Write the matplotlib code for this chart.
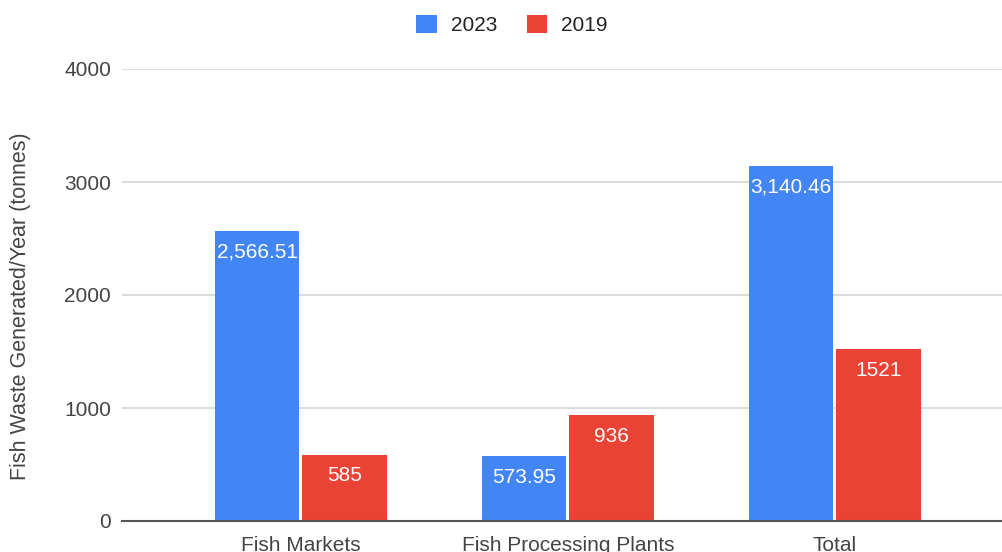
import matplotlib
matplotlib.use("Agg")
import matplotlib.pyplot as plt
import numpy as np

categories = ["Fish Markets", "Fish Processing Plants", "Total"]
series_names = ["2023", "2019"]
values_2023 = [2566.51, 573.95, 3140.46]
values_2019 = [585, 936, 1521]
labels_2023 = ["2,566.51", "573.95", "3,140.46"]
labels_2019 = ["585", "936", "1521"]
yticks = [0, 1000, 2000, 3000, 4000]

plt.rcParams['font.family'] = ['Liberation Sans', 'DejaVu Sans']

fig = plt.figure(figsize=(10.03, 5.52), dpi=100)
ax = fig.add_axes([122/1003, 31/552, 1 - 122/1003, (521-69)/552])

x = np.arange(len(categories))
w = 0.315
blue = "#4285F4"
red = "#EA4335"
b1 = ax.bar(x - w/2 - 0.006, values_2023, w, color=blue, label=series_names[0], zorder=3)
b2 = ax.bar(x + w/2 + 0.006, values_2019, w, color=red, label=series_names[1], zorder=3)

for bars, labs in ((b1, labels_2023), (b2, labels_2019)):
    for rect, lab in zip(bars, labs):
        ax.text(rect.get_x() + rect.get_width()/2, rect.get_height() - 234, lab,
                ha='center', va='baseline', color='white', fontsize=15, zorder=4)

ax.set_ylim(0, 4000)
ax.set_xlim(-0.67, 2.63)
ax.set_yticks(yticks)
ax.set_yticklabels([str(t) for t in yticks])
ax.set_xticks(x)
ax.set_xticklabels(categories)
ax.tick_params(axis='both', length=0, labelsize=15, labelcolor='#444444')
ax.tick_params(axis='y', pad=8)
ax.tick_params(axis='x', pad=11)
ax.grid(axis='y', color='#d9d9d9', linewidth=1.3, zorder=0)
for s in ['top', 'right', 'left']:
    ax.spines[s].set_visible(False)
ax.spines['bottom'].set_color('#555555')
ax.spines['bottom'].set_linewidth(1.5)
ax.spines['bottom'].set_zorder(5)

ax.set_ylabel("Fish Waste Generated/Year (tonnes)", fontsize=15.5, color='#444444')
ax.yaxis.set_label_coords(-(122-31)/(1003-122), 0.476)

leg = fig.legend(handles=[b1, b2], labels=series_names, loc='center', bbox_to_anchor=(512/1003, 1 - 25/552),
                 ncol=2, frameon=False, fontsize=15, handlelength=1.0, handleheight=1.0,
                 columnspacing=1.4, handletextpad=0.67)
for t in leg.get_texts():
    t.set_color('#222222')

fig.savefig("out.png", dpi=100)
